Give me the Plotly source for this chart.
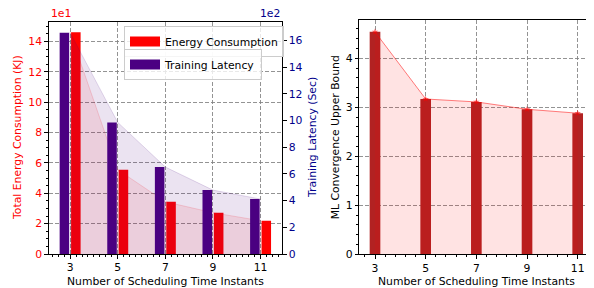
import plotly.graph_objects as go

# ---- data ----
instants = [3, 5, 7, 9, 11]
energy_e1 = [14.6, 5.55, 3.44, 2.72, 2.19]      # Total energy consumption (x1e1 KJ)
latency_e2 = [16.6, 9.87, 6.52, 4.79, 4.12]     # Training latency (x1e2 Sec)
ml_bound = [4.54, 3.17, 3.11, 2.96, 2.88]       # ML convergence upper bound
x_ticks = [3, 5, 7, 9, 11]

# the page body has an 8px margin, so the figure is sized to the visible window
OFF = 8
W, H = 594 - OFF, 288 - OFF
FONT = "DejaVu Sans"
FS = 10.8
RED = "#ff0000"
BLUE = "#00008b"
INDIGO = "#4b0082"
FIRE = "#b22222"
GRID = "rgba(128,128,128,0.85)"

def px(v):
    return (v - OFF) / W

def py(v):
    return 1 - (v - OFF) / H

fig = go.Figure()

# left plot: energy (left axis)
fig.add_trace(go.Scatter(x=instants, y=energy_e1, mode="lines", fill="tozeroy",
                         line=dict(color="rgba(255,0,0,0.15)", width=1),
                         fillcolor="rgba(255,0,0,0.09)", showlegend=False,
                         xaxis="x", yaxis="y", hoverinfo="skip"))
fig.add_trace(go.Bar(x=instants, y=energy_e1, name="Energy Consumption",
                     marker=dict(color=RED, line=dict(width=0)), width=0.4, offset=0.04,
                     xaxis="x", yaxis="y", showlegend=False))
# left plot: latency (right axis)
fig.add_trace(go.Scatter(x=instants, y=latency_e2, mode="lines", fill="tozeroy",
                         line=dict(color="rgba(75,0,130,0.15)", width=1),
                         fillcolor="rgba(75,0,130,0.11)", showlegend=False,
                         xaxis="x", yaxis="y2", hoverinfo="skip"))
fig.add_trace(go.Bar(x=instants, y=latency_e2, name="Training Latency",
                     marker=dict(color=INDIGO, line=dict(width=0)), width=0.4, offset=-0.44,
                     xaxis="x", yaxis="y2", showlegend=False))

# legend keys (wide rectangles like the reference)
fig.add_trace(go.Scatter(x=[None], y=[None], mode="lines", name="Energy Consumption",
                         line=dict(color=RED, width=10), xaxis="x", yaxis="y", legend="legend"))
fig.add_trace(go.Scatter(x=[None], y=[None], mode="lines", name="Training Latency",
                         line=dict(color=INDIGO, width=10), xaxis="x", yaxis="y", legend="legend2"))

# right plot
fig.add_trace(go.Bar(x=instants, y=ml_bound, marker=dict(color=FIRE, line=dict(width=0)),
                     width=0.42, showlegend=False, xaxis="x2", yaxis="y3"))
fig.add_trace(go.Scatter(x=instants, y=ml_bound, mode="lines+markers", fill="tozeroy",
                         line=dict(color="rgba(255,0,0,0.5)", width=1),
                         marker=dict(symbol="star", size=5, color="rgba(255,0,0,0.6)"),
                         fillcolor="rgba(255,0,0,0.11)", showlegend=False,
                         xaxis="x2", yaxis="y3"))

tickfont = dict(family=FONT, size=FS, color="black")
common_x = dict(showline=True, linecolor="black", linewidth=1, mirror=True,
                ticks="outside", ticklen=3.5, tickcolor="black", tickwidth=1,
                tickmode="array", tickvals=x_ticks, ticktext=[str(v) for v in x_ticks],
                showgrid=True, gridcolor=GRID, griddash="4px,2px", gridwidth=0.8,
                zeroline=False, tickfont=tickfont, automargin=False)

fig.update_layout(
    width=W, height=H, margin=dict(l=0, r=0, t=0, b=0, autoexpand=False),
    paper_bgcolor="white", plot_bgcolor="white",
    font=dict(family=FONT, size=FS, color="black"),
    barmode="overlay",
    xaxis=dict(domain=[px(48.7), px(282)], range=[2.1, 11.9], anchor="y",
               minor=dict(ticks="outside", ticklen=2, tick0=3, dtick=0.25, tickcolor="black", showgrid=False),
               **common_x),
    yaxis=dict(domain=[py(254), py(21.7)], range=[0, 15.3], anchor="x",
               showline=True, linecolor="black", linewidth=1, mirror=False,
               ticks="outside", ticklen=3.5, tickcolor="black",
               tickmode="linear", tick0=0, dtick=2, automargin=False,
               minor=dict(ticks="outside", ticklen=2, tick0=0, dtick=0.5, tickcolor="black", showgrid=False),
               showgrid=True, gridcolor=GRID, griddash="4px,2px", gridwidth=0.8,
               zeroline=False, tickfont=dict(family=FONT, size=FS, color=RED)),
    yaxis2=dict(overlaying="y", side="right", anchor="x", range=[0, 17.42],
                showline=True, linecolor="black", linewidth=1, automargin=False,
                ticks="outside", ticklen=3.5, tickcolor="black",
                tickmode="linear", tick0=0, dtick=2, showgrid=False, zeroline=False,
                tickfont=dict(family=FONT, size=FS, color=BLUE)),
    xaxis2=dict(domain=[px(359.3), px(593.4)], range=[2.38, 11.62], anchor="y3",
                minor=dict(ticks="outside", ticklen=2, tick0=3, dtick=0.4, tickcolor="black", showgrid=False),
                **common_x),
    yaxis3=dict(domain=[py(254.3), py(20.3)], range=[0, 4.776], anchor="x2",
                showline=True, linecolor="black", linewidth=1, mirror=True,
                ticks="outside", ticklen=3.5, tickcolor="black", automargin=False,
                tickmode="linear", tick0=0, dtick=1,
                minor=dict(ticks="outside", ticklen=2, tick0=0, dtick=0.2, tickcolor="black", showgrid=False),
                showgrid=True, gridcolor=GRID, griddash="4px,2px", gridwidth=0.8,
                zeroline=False, tickfont=tickfont),
    legend=dict(x=px(124), y=py(26), xanchor="left", yanchor="top", itemwidth=30,
                bgcolor="rgba(255,255,255,0.8)", bordercolor="#cccccc", borderwidth=1,
                font=dict(family=FONT, size=FS, color="black")),
    legend2=dict(x=px(124), y=py(49), xanchor="left", yanchor="top", itemwidth=30,
                 bgcolor="rgba(255,255,255,0.8)", bordercolor="#cccccc", borderwidth=1,
                 font=dict(family=FONT, size=FS, color="black")),
)

ann = [
    dict(text="1e1", x=px(48.7), y=py(13), xanchor="left", yanchor="middle",
         font=dict(family=FONT, size=FS, color=RED)),
    dict(text="1e2", x=px(282), y=py(13), xanchor="right", yanchor="middle",
         font=dict(family=FONT, size=FS, color=BLUE)),
    dict(text="Total Energy Consumption (KJ)", x=px(18), y=py(137.9), textangle=-90,
         xanchor="center", yanchor="middle", font=dict(family=FONT, size=FS, color=RED)),
    dict(text="Training Latency (Sec)", x=px(313), y=py(137.9), textangle=-90,
         xanchor="center", yanchor="middle", font=dict(family=FONT, size=FS, color=BLUE)),
    dict(text="ML Convergence Upper Bound", x=px(335), y=py(137.3), textangle=-90,
         xanchor="center", yanchor="middle", font=dict(family=FONT, size=FS, color="black")),
    dict(text="Number of Scheduling Time Instants", x=px(165.4), y=py(281), xanchor="center",
         yanchor="middle", font=dict(family=FONT, size=FS, color="black")),
    dict(text="Number of Scheduling Time Instants", x=px(476.3), y=py(281), xanchor="center",
         yanchor="middle", font=dict(family=FONT, size=FS, color="black")),
]
for a in ann:
    a.update(xref="paper", yref="paper", showarrow=False)
fig.update_layout(annotations=ann)

fig.write_html("out.html")
